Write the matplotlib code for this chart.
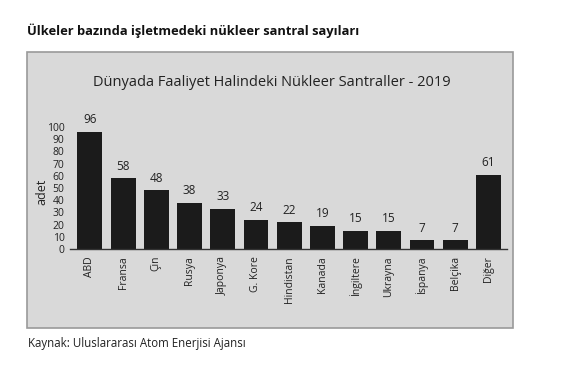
import matplotlib
matplotlib.use("Agg")
import matplotlib.pyplot as plt
from matplotlib.patches import Rectangle

countries = ["ABD", "Fransa", "Çin", "Rusya", "Japonya", "G. Kore", "Hindistan",
             "Kanada", "İngiltere", "Ukrayna", "İspanya", "Belçika", "Diğer"]
values = [96, 58, 48, 38, 33, 24, 22, 19, 15, 15, 7, 7, 61]
yticks = [0, 10, 20, 30, 40, 50, 60, 70, 80, 90, 100]

W, H = 572, 366
plt.rcParams['font.family'] = ['Open Sans', 'DejaVu Sans']
fig = plt.figure(figsize=(W / 100, H / 100), dpi=100, facecolor="white")

# gray panel
fig.patches.append(Rectangle((27 / W, 1 - 328 / H), (513 - 27) / W, (328 - 52) / H,
                             transform=fig.transFigure, facecolor="#d9d9d9",
                             edgecolor="#9a9a9a", linewidth=1.2, zorder=-5))

fig.text(27 / W, 1 - 31 / H, "Ülkeler bazında işletmedeki nükleer santral sayıları",
         fontsize=9.3, fontweight="bold", color="#111111", va="center", ha="left")
fig.text(28 / W, 1 - 344 / H, "Kaynak: Uluslararası Atom Enerjisi Ajansı",
         fontsize=8.3, color="#222222", va="center", ha="left")
fig.text(272 / W, 1 - 82 / H, "Dünyada Faaliyet Halindeki Nükleer Santraller - 2019",
         fontsize=10.5, color="#222222", va="center", ha="center")

ax = fig.add_axes([70 / W, 117 / H, (507 - 70) / W, 122 / H])
ax.set_zorder(5)
ax.set_facecolor("none")
x = list(range(len(countries)))
ax.bar(x, values, width=0.75, color="#1b1b1b", zorder=2)
for xi, v in zip(x, values):
    ax.text(xi, v + 4.5, str(v), ha="center", va="bottom", fontsize=8.5, color="#222222",
            clip_on=False)
ax.set_xlim(-0.6, 12.56)
ax.set_ylim(0, 100)
ax.set_yticks(yticks)
ax.set_xticks(x)
ax.set_xticklabels(countries, rotation=90, fontsize=7.5, color="#222222")
ax.tick_params(axis="y", length=0, labelsize=7.5, pad=4, colors="#222222")
ax.tick_params(axis="x", length=0, pad=5)
for s in ["top", "right", "left"]:
    ax.spines[s].set_visible(False)
ax.spines["bottom"].set_color("#333333")
ax.spines["bottom"].set_linewidth(1.0)
ax.set_ylabel("adet", fontsize=9, color="#222222")
ax.yaxis.set_label_coords(-22 / (507 - 70), 0.47)

fig.savefig("out.png", dpi=100, facecolor="white")
